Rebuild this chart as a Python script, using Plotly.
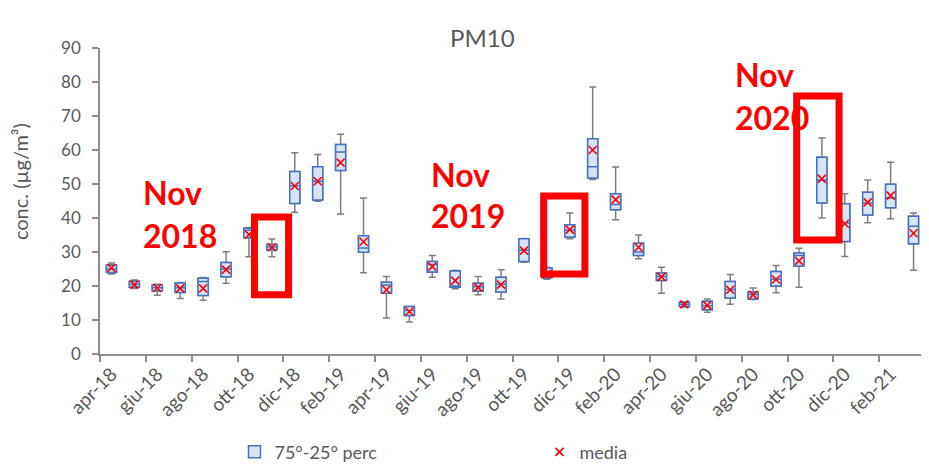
import plotly.graph_objects as go

# monthly PM10 statistics, apr-18 .. mar-21
months = ["apr-18", "mag-18", "giu-18", "lug-18", "ago-18", "set-18", "ott-18", "nov-18",
          "dic-18", "gen-19", "feb-19", "mar-19", "apr-19", "mag-19", "giu-19", "lug-19",
          "ago-19", "set-19", "ott-19", "nov-19", "dic-19", "gen-20", "feb-20", "mar-20",
          "apr-20", "mag-20", "giu-20", "lug-20", "ago-20", "set-20", "ott-20", "nov-20",
          "dic-20", "gen-21", "feb-21", "mar-21"]

low = [23.5, 19.3, 17.3, 16.3, 15.8, 20.8, 28.6, 28.6, 41.7, 44.9, 41.2, 23.9,
       10.6, 9.4, 22.6, 19.2, 17.4, 16.2, 27.0, 22.0, 33.9, 51.3, 39.5, 28.0,
       17.9, 13.8, 12.3, 14.6, 16.0, 18.0, 19.6, 40.0, 28.7, 38.6, 39.8, 24.6]
q1 = [24.0, 19.6, 18.6, 18.1, 17.2, 22.7, 34.2, 30.6, 44.3, 45.3, 54.0, 29.9,
      17.9, 11.3, 24.1, 19.6, 18.5, 18.2, 27.2, 22.4, 34.4, 51.8, 42.4, 29.0,
      21.6, 14.0, 13.0, 16.5, 16.2, 20.0, 25.9, 44.4, 33.1, 40.9, 43.0, 32.4]
median = [25.0, 20.5, 19.5, 19.5, 21.3, 25.0, 36.4, 31.5, 49.5, 50.8, 59.4, 31.2,
          20.3, 12.8, 26.3, 20.0, 19.8, 20.5, 30.5, 23.0, 36.5, 55.1, 44.0, 30.0,
          22.8, 14.6, 14.2, 19.0, 17.5, 22.0, 29.0, 51.2, 38.5, 44.4, 45.9, 37.6]
q3 = [26.2, 21.4, 20.3, 20.9, 22.3, 26.9, 37.0, 32.2, 53.7, 55.1, 61.6, 34.8,
      21.1, 14.0, 27.2, 24.4, 20.8, 22.6, 33.9, 25.3, 38.0, 63.3, 47.1, 32.6,
      23.8, 15.2, 15.5, 21.3, 18.2, 24.3, 29.7, 57.9, 44.2, 47.6, 49.9, 40.5]
high = [26.8, 21.8, 20.5, 21.0, 22.5, 30.1, 37.2, 33.8, 59.2, 58.7, 64.6, 45.9,
        22.8, 14.0, 29.0, 24.6, 22.8, 24.8, 34.0, 25.5, 41.5, 78.5, 55.0, 35.0,
        25.5, 15.3, 16.2, 23.4, 19.4, 26.0, 31.1, 63.5, 47.1, 51.2, 56.4, 41.5]
mean = [25.3, 20.4, 19.4, 19.3, 19.3, 24.8, 35.1, 31.4, 49.4, 50.8, 56.3, 33.0,
        18.9, 12.5, 25.7, 21.6, 19.6, 20.4, 30.4, 23.5, 36.6, 60.0, 45.4, 31.4,
        22.7, 14.6, 14.3, 18.9, 17.4, 21.9, 27.4, 51.5, 38.3, 44.6, 46.6, 35.5]

x_pos = list(range(len(months)))
label_pos = x_pos[::2]
label_text = months[::2]

grey = "#595959"
axis_grey = "#8c8c8c"
font_family = "Lato, 'Open Sans', sans-serif"

fig = go.Figure()

# grey whiskers (full box, covered afterwards by the blue one)
fig.add_trace(go.Box(
    x=x_pos, q1=q1, median=median, q3=q3, lowerfence=low, upperfence=high,
    width=0.44, whiskerwidth=0.7,
    line=dict(color="#7f7f7f", width=1.5),
    fillcolor="rgba(0,0,0,0)",
    showlegend=False, hoverinfo="skip",
))

# blue interquartile box
fig.add_trace(go.Box(
    x=x_pos, q1=q1, median=median, q3=q3, lowerfence=q1, upperfence=q3,
    width=0.44, whiskerwidth=0,
    line=dict(color="#4472c4", width=1.5),
    fillcolor="#dae3f3",
    name="75°-25° perc",
))

# mean markers
fig.add_trace(go.Scatter(
    x=x_pos, y=mean, mode="markers",
    marker=dict(symbol="x-thin", size=8, line=dict(color="#ff0000", width=1.6), color="#ff0000"),
    name="media",
))

# red highlight boxes and labels
red = "#ff0000"
highlights = [
    # (x0, x1, y0, y1)
    (6.24, 7.73, 17.4, 40.3),
    (18.86, 20.66, 23.5, 46.5),
    (29.9, 31.75, 33.5, 75.9),
]
for x0, x1, y0, y1 in highlights:
    fig.add_shape(type="rect", xref="x", yref="y", x0=x0, x1=x1, y0=y0, y1=y1,
                  line=dict(color=red, width=7), layer="above")

labels = [
    (1.3, 47.6, "Nov"), (1.3, 34.9, "2018"),
    (13.85, 52.9, "Nov"), (13.85, 40.8, "2019"),
    (27.1, 82.3, "Nov"), (27.1, 69.6, "2020"),
]
for lx, ly, txt in labels:
    fig.add_annotation(x=lx, y=ly, xref="x", yref="y", text="<b>%s</b>" % txt,
                       showarrow=False, xanchor="left", yanchor="middle",
                       font=dict(size=32, color=red, family=font_family))

# y axis title, placed a bit above the axis centre like the original
fig.add_annotation(x=-0.097, y=0.565, xref="paper", yref="paper", text="conc. (µg/m³)",
                   textangle=-90, showarrow=False, xanchor="center", yanchor="middle",
                   font=dict(size=20, color=grey, family=font_family))

fig.update_layout(
    width=921,
    height=456,
    margin=dict(l=92, r=4, t=40, b=110),
    plot_bgcolor="white",
    paper_bgcolor="white",
    boxmode="overlay",
    font=dict(family=font_family, color=grey, size=16),
    title=dict(text="PM10", x=0.515, xanchor="center", y=0.932, yanchor="middle",
               font=dict(size=24, color=grey, family=font_family)),
    legend=dict(orientation="h", xref="paper", x=0.163, xanchor="left",
                yref="container", y=0.026, yanchor="middle",
                entrywidth=260, font=dict(size=18, color=grey)),
    showlegend=True,
)

fig.update_xaxes(
    range=[-0.5, len(months) - 0.5],
    tickmode="array", tickvals=label_pos, ticktext=label_text,
    tickangle=-45, ticks="", showgrid=False, zeroline=False,
    showline=True, linecolor=axis_grey, linewidth=1.5,
    tickfont=dict(size=19, color=grey),
    minor=dict(tickmode="array", tickvals=[p - 0.5 for p in label_pos] + [len(months) - 0.5],
               ticks="outside", ticklen=6, tickcolor=axis_grey, tickwidth=1.5, showgrid=False),
)

fig.update_yaxes(
    range=[0, 90], dtick=10, showgrid=False, zeroline=False,
    showline=True, linecolor=axis_grey, linewidth=1.5,
    ticks="outside", ticklen=6, tickcolor=axis_grey, tickwidth=1.5,
    ticklabelstandoff=8,
    tickfont=dict(size=17, color=grey),
)

fig.write_html("out.html")
